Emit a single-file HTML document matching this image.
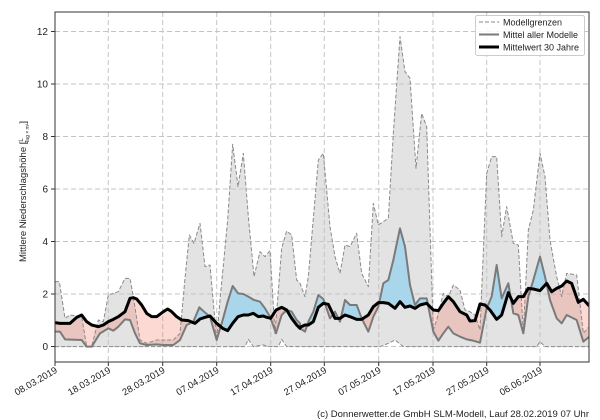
<!DOCTYPE html>
<html><head><meta charset="utf-8"><style>
html,body{margin:0;padding:0;background:#fff;}
svg{display:block;font-family:"Liberation Sans","DejaVu Sans",sans-serif;}
</style></head><body>
<svg width="600" height="420" viewBox="0 0 600 420" xmlns="http://www.w3.org/2000/svg">
<defs>
<clipPath id="plot"><rect x="55" y="12" width="534" height="350"/></clipPath>
<clipPath id="aboveBlack"><path transform="scale(0.333333)" d="M165,968 L180,970 210,970 230,952 245,945 260,965 275,975 295,980 310,975 325,965 340,958 355,950 375,935 390,895 400,893 410,897 425,915 440,940 455,950 470,950 490,935 503,927 515,935 530,950 545,960 565,962 585,970 600,957 615,952 630,948 650,970 668,985 683,992 698,970 714,950 730,945 745,945 760,940 775,950 790,948 800,952 812,955 828,930 845,922 860,930 875,955 890,975 900,985 900,982 915,975 925,975 940,965 955,922 970,910 985,913 1005,955 1020,955 1035,945 1050,950 1070,958 1085,958 1105,945 1120,920 1135,908 1150,908 1165,910 1185,925 1200,905 1215,922 1230,918 1245,925 1260,915 1280,910 1300,930 1315,932 1330,910 1345,890 1360,905 1380,935 1400,945 1410,963 1425,962 1440,912 1455,915 1470,930 1490,958 1505,945 1525,878 1540,910 1555,890 1570,890 1585,865 1600,867 1620,872 1640,850 1655,875 1670,865 1685,858 1700,843 1715,850 1735,907 1750,898 1768,918 L1768,0 L165,0 Z"/></clipPath>
<clipPath id="aboveMean"><path transform="scale(0.333333)" d="M165,995 L180,995 195,1018 245,1020 260,1040 275,1040 300,1000 325,985 340,992 355,980 375,958 390,960 405,1000 420,1030 440,1035 470,1033 490,1035 520,1035 540,1020 560,975 580,965 598,922 612,935 630,950 650,1020 668,960 683,905 698,858 714,880 730,882 745,890 762,900 780,905 795,925 810,950 828,1000 845,945 860,930 875,935 890,960 900,970 900,985 915,995 925,965 940,935 955,885 970,897 990,955 1005,935 1020,965 1035,900 1050,915 1070,915 1085,955 1105,995 1120,950 1135,920 1150,850 1165,840 1180,780 1200,685 1215,740 1230,855 1245,915 1260,895 1280,895 1300,995 1315,1022 1330,1000 1345,980 1360,1000 1380,1010 1400,1018 1420,1022 1440,1028 1460,925 1475,890 1490,795 1505,895 1525,850 1540,940 1555,945 1570,1000 1585,890 1600,840 1620,770 1635,830 1650,900 1670,955 1685,970 1700,945 1730,960 1750,1025 1768,1010 L1768,0 L165,0 Z"/></clipPath>
</defs>
<g clip-path="url(#plot)">
<!-- gray band -->
<path fill="#e3e3e3" transform="scale(0.333333)" d="M165,845 L178,845 195,955 210,945 245,950 260,1040 275,1040 295,960 310,965 325,885 340,880 355,875 375,835 390,835 400,890 420,1020 440,1030 470,1020 520,1020 540,1000 555,835 568,705 582,730 600,670 615,800 630,795 650,1020 660,900 683,660 698,433 714,560 730,460 745,650 762,830 780,755 795,770 810,752 825,1000 845,745 860,693 875,705 890,840 900,850 915,890 925,830 955,480 970,460 990,680 1005,770 1020,820 1035,735 1050,740 1070,700 1085,820 1105,860 1120,610 1135,675 1165,655 1180,400 1200,110 1215,215 1230,235 1248,505 1265,340 1280,380 1300,990 1310,960 1330,880 1345,890 1360,855 1380,870 1395,930 1410,935 1425,945 1440,990 1460,520 1475,470 1490,470 1505,710 1520,620 1540,730 1555,735 1570,1000 1585,690 1600,630 1620,460 1635,530 1650,720 1670,830 1685,890 1700,820 1730,825 1750,1000 1768,980 L1768,1040 1635,1040 1620,1025 1610,1040 1210,1040 1185,1020 1165,1030 1140,1040 860,1040 845,1018 835,1040 810,1040 790,1035 760,1040 745,1018 735,1040 165,1040 Z"/>
</g>
<!-- grid -->
<g stroke="#c4c4c4" stroke-width="1" stroke-dasharray="5,3">
<line x1="55" y1="346.5" x2="589" y2="346.5"/><line x1="55" y1="294" x2="589" y2="294"/><line x1="55" y1="241.5" x2="589" y2="241.5"/><line x1="55" y1="189" x2="589" y2="189"/><line x1="55" y1="136.5" x2="589" y2="136.5"/><line x1="55" y1="84" x2="589" y2="84"/><line x1="55" y1="31.5" x2="589" y2="31.5"/>
<line x1="108.3" y1="12" x2="108.3" y2="362"/><line x1="162.7" y1="12" x2="162.7" y2="362"/><line x1="216.7" y1="12" x2="216.7" y2="362"/><line x1="270.7" y1="12" x2="270.7" y2="362"/><line x1="324.3" y1="12" x2="324.3" y2="362"/><line x1="378.7" y1="12" x2="378.7" y2="362"/><line x1="433" y1="12" x2="433" y2="362"/><line x1="486.7" y1="12" x2="486.7" y2="362"/><line x1="540" y1="12" x2="540" y2="362"/>
</g>
<g clip-path="url(#plot)">
<g clip-path="url(#aboveBlack)">
<path fill="#a9d6ea" transform="scale(0.333333)" d="M165,995 L180,995 195,1018 245,1020 260,1040 275,1040 300,1000 325,985 340,992 355,980 375,958 390,960 405,1000 420,1030 440,1035 470,1033 490,1035 520,1035 540,1020 560,975 580,965 598,922 612,935 630,950 650,1020 668,960 683,905 698,858 714,880 730,882 745,890 762,900 780,905 795,925 810,950 828,1000 845,945 860,930 875,935 890,960 900,970 900,985 915,995 925,965 940,935 955,885 970,897 990,955 1005,935 1020,965 1035,900 1050,915 1070,915 1085,955 1105,995 1120,950 1135,920 1150,850 1165,840 1180,780 1200,685 1215,740 1230,855 1245,915 1260,895 1280,895 1300,995 1315,1022 1330,1000 1345,980 1360,1000 1380,1010 1400,1018 1420,1022 1440,1028 1460,925 1475,890 1490,795 1505,895 1525,850 1540,940 1555,945 1570,1000 1585,890 1600,840 1620,770 1635,830 1650,900 1670,955 1685,970 1700,945 1730,960 1750,1025 1768,1010 L1768,1200 L165,1200 Z"/>
</g>
<g clip-path="url(#aboveMean)">
<path fill="#fa8072" fill-opacity="0.3" transform="scale(0.333333)" d="M165,968 L180,970 210,970 230,952 245,945 260,965 275,975 295,980 310,975 325,965 340,958 355,950 375,935 390,895 400,893 410,897 425,915 440,940 455,950 470,950 490,935 503,927 515,935 530,950 545,960 565,962 585,970 600,957 615,952 630,948 650,970 668,985 683,992 698,970 714,950 730,945 745,945 760,940 775,950 790,948 800,952 812,955 828,930 845,922 860,930 875,955 890,975 900,985 900,982 915,975 925,975 940,965 955,922 970,910 985,913 1005,955 1020,955 1035,945 1050,950 1070,958 1085,958 1105,945 1120,920 1135,908 1150,908 1165,910 1185,925 1200,905 1215,922 1230,918 1245,925 1260,915 1280,910 1300,930 1315,932 1330,910 1345,890 1360,905 1380,935 1400,945 1410,963 1425,962 1440,912 1455,915 1470,930 1490,958 1505,945 1525,878 1540,910 1555,890 1570,890 1585,865 1600,867 1620,872 1640,850 1655,875 1670,865 1685,858 1700,843 1715,850 1735,907 1750,898 1768,918 L1768,1200 L165,1200 Z"/>
</g>
<g fill="none" stroke-linejoin="round">
<path stroke="#8a8a8a" stroke-width="1" stroke-dasharray="4,2" vector-effect="non-scaling-stroke" transform="scale(0.333333)" d="M165,845 L178,845 195,955 210,945 245,950 260,1040 275,1040 295,960 310,965 325,885 340,880 355,875 375,835 390,835 400,890 420,1020 440,1030 470,1020 520,1020 540,1000 555,835 568,705 582,730 600,670 615,800 630,795 650,1020 660,900 683,660 698,433 714,560 730,460 745,650 762,830 780,755 795,770 810,752 825,1000 845,745 860,693 875,705 890,840 900,850 915,890 925,830 955,480 970,460 990,680 1005,770 1020,820 1035,735 1050,740 1070,700 1085,820 1105,860 1120,610 1135,675 1165,655 1180,400 1200,110 1215,215 1230,235 1248,505 1265,340 1280,380 1300,990 1310,960 1330,880 1345,890 1360,855 1380,870 1395,930 1410,935 1425,945 1440,990 1460,520 1475,470 1490,470 1505,710 1520,620 1540,730 1555,735 1570,1000 1585,690 1600,630 1620,460 1635,530 1650,720 1670,830 1685,890 1700,820 1730,825 1750,1000 1768,980"/>
<path stroke="#8a8a8a" stroke-width="1" stroke-dasharray="4,2" vector-effect="non-scaling-stroke" transform="scale(0.333333)" d="M165,1040 L735,1040 745,1018 760,1040 790,1035 810,1040 835,1040 845,1018 860,1040 1140,1040 1165,1030 1185,1020 1210,1040 1610,1040 1620,1025 1635,1040 1768,1040"/>
<path stroke="#7a7a7a" stroke-width="2" vector-effect="non-scaling-stroke" transform="scale(0.333333)" d="M165,995 L180,995 195,1018 245,1020 260,1040 275,1040 300,1000 325,985 340,992 355,980 375,958 390,960 405,1000 420,1030 440,1035 470,1033 490,1035 520,1035 540,1020 560,975 580,965 598,922 612,935 630,950 650,1020 668,960 683,905 698,858 714,880 730,882 745,890 762,900 780,905 795,925 810,950 828,1000 845,945 860,930 875,935 890,960 900,970 900,985 915,995 925,965 940,935 955,885 970,897 990,955 1005,935 1020,965 1035,900 1050,915 1070,915 1085,955 1105,995 1120,950 1135,920 1150,850 1165,840 1180,780 1200,685 1215,740 1230,855 1245,915 1260,895 1280,895 1300,995 1315,1022 1330,1000 1345,980 1360,1000 1380,1010 1400,1018 1420,1022 1440,1028 1460,925 1475,890 1490,795 1505,895 1525,850 1540,940 1555,945 1570,1000 1585,890 1600,840 1620,770 1635,830 1650,900 1670,955 1685,970 1700,945 1730,960 1750,1025 1768,1010"/>
<path stroke="#000" stroke-width="3" vector-effect="non-scaling-stroke" transform="scale(0.333333)" d="M165,968 L180,970 210,970 230,952 245,945 260,965 275,975 295,980 310,975 325,965 340,958 355,950 375,935 390,895 400,893 410,897 425,915 440,940 455,950 470,950 490,935 503,927 515,935 530,950 545,960 565,962 585,970 600,957 615,952 630,948 650,970 668,985 683,992 698,970 714,950 730,945 745,945 760,940 775,950 790,948 800,952 812,955 828,930 845,922 860,930 875,955 890,975 900,985 900,982 915,975 925,975 940,965 955,922 970,910 985,913 1005,955 1020,955 1035,945 1050,950 1070,958 1085,958 1105,945 1120,920 1135,908 1150,908 1165,910 1185,925 1200,905 1215,922 1230,918 1245,925 1260,915 1280,910 1300,930 1315,932 1330,910 1345,890 1360,905 1380,935 1400,945 1410,963 1425,962 1440,912 1455,915 1470,930 1490,958 1505,945 1525,878 1540,910 1555,890 1570,890 1585,865 1600,867 1620,872 1640,850 1655,875 1670,865 1685,858 1700,843 1715,850 1735,907 1750,898 1768,918"/>
</g>
</g>
<!-- axes -->
<rect x="55" y="12" width="534" height="350" fill="none" stroke="#333" stroke-width="1"/>
<g stroke="#333" stroke-width="1">
<line x1="51" y1="346.5" x2="55" y2="346.5"/><line x1="51" y1="294" x2="55" y2="294"/><line x1="51" y1="241.5" x2="55" y2="241.5"/><line x1="51" y1="189" x2="55" y2="189"/><line x1="51" y1="136.5" x2="55" y2="136.5"/><line x1="51" y1="84" x2="55" y2="84"/><line x1="51" y1="31.5" x2="55" y2="31.5"/>
<line x1="55" y1="362" x2="55" y2="366"/><line x1="108.3" y1="362" x2="108.3" y2="366"/><line x1="162.7" y1="362" x2="162.7" y2="366"/><line x1="216.7" y1="362" x2="216.7" y2="366"/><line x1="270.7" y1="362" x2="270.7" y2="366"/><line x1="324.3" y1="362" x2="324.3" y2="366"/><line x1="378.7" y1="362" x2="378.7" y2="366"/><line x1="433" y1="362" x2="433" y2="366"/><line x1="486.7" y1="362" x2="486.7" y2="366"/><line x1="540" y1="362" x2="540" y2="366"/>
</g>
<g font-size="10" fill="#222" text-anchor="end">
<text x="48" y="350">0</text><text x="48" y="297.5">2</text><text x="48" y="245">4</text><text x="48" y="192.5">6</text><text x="48" y="140">8</text><text x="48" y="87.5">10</text><text x="48" y="35">12</text>
</g>
<g font-size="9.5" fill="#222" text-anchor="end">
<text transform="translate(58,372) rotate(-30)">08.03.2019</text>
<text transform="translate(111.3,372) rotate(-30)">18.03.2019</text>
<text transform="translate(165.7,372) rotate(-30)">28.03.2019</text>
<text transform="translate(219.7,372) rotate(-30)">07.04.2019</text>
<text transform="translate(273.7,372) rotate(-30)">17.04.2019</text>
<text transform="translate(327.3,372) rotate(-30)">27.04.2019</text>
<text transform="translate(381.7,372) rotate(-30)">07.05.2019</text>
<text transform="translate(436,372) rotate(-30)">17.05.2019</text>
<text transform="translate(489.7,372) rotate(-30)">27.05.2019</text>
<text transform="translate(543,372) rotate(-30)">06.06.2019</text>
</g>
<text transform="translate(26,262) rotate(-90)" font-size="9.5" fill="#222">Mittlere Niederschlagshöhe [<tspan font-size="6" dy="-3">L</tspan><tspan font-size="5" dx="-5" dy="6">Tag × m²</tspan><tspan dy="-3">]</tspan></text>
<!-- legend -->
<rect x="475.5" y="15.5" width="109" height="40" rx="2" fill="#fff" fill-opacity="0.85" stroke="#ccc"/>
<line x1="479" y1="22" x2="499" y2="22" stroke="#8a8a8a" stroke-dasharray="4,2"/>
<line x1="479" y1="34.5" x2="499" y2="34.5" stroke="#7a7a7a" stroke-width="2"/>
<line x1="479" y1="47" x2="499" y2="47" stroke="#000" stroke-width="3"/>
<g font-size="9" fill="#222">
<text x="503" y="25.5">Modellgrenzen</text>
<text x="503" y="38">Mittel aller Modelle</text>
<text x="503" y="50.5">Mittelwert 30 Jahre</text>
</g>
<text x="589" y="417" font-size="9.5" fill="#222" text-anchor="end">(c) Donnerwetter.de GmbH SLM-Modell, Lauf 28.02.2019 07 Uhr</text>
</svg>
</body></html>
